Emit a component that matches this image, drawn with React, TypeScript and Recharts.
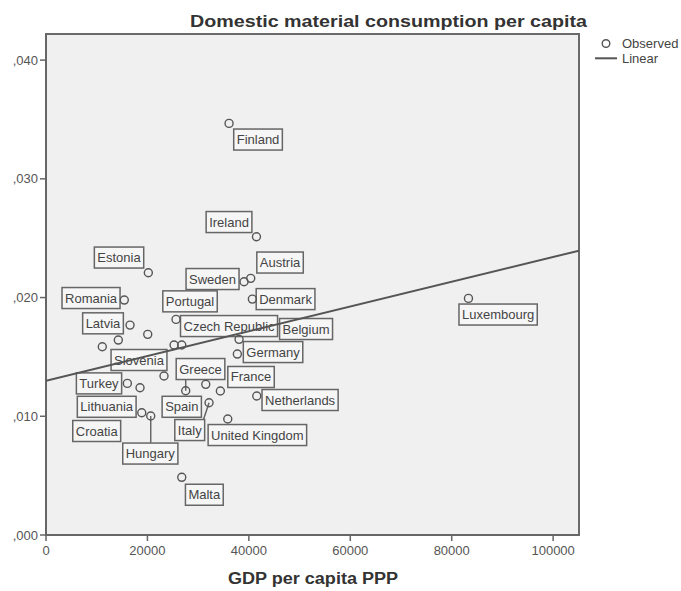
import React from 'react';
import { ScatterChart, Scatter, XAxis, YAxis, CartesianGrid, ReferenceArea } from 'recharts';

const FONT = "'Liberation Sans', Arial, sans-serif";

// Observed points (GDP per capita PPP, domestic material consumption per capita)
const countries = [
  'Finland', 'Ireland', 'Estonia', 'Sweden', 'Austria', 'Romania', 'Denmark', 'Portugal', 'Latvia', '',
  'Belgium', '', '', 'Czech Republic', '', 'Germany', 'Slovenia', 'Turkey', 'Croatia', 'France',
  'Spain', 'Greece', 'Netherlands', 'Italy', 'Lithuania', 'Hungary', 'United Kingdom', 'Malta', 'Luxembourg',
];
const gdpValues = [
  36100, 41500, 20180, 39050, 40370, 15440, 40690, 25640, 16570, 20060,
  38070, 14260, 11100, 26770, 25250, 37730, 23270, 16040, 18540, 34380,
  31500, 27550, 41560, 32150, 18880, 20650, 35840, 26770, 83300,
];
const dmcValues = [
  0.03467, 0.02512, 0.02209, 0.02133, 0.02162, 0.01979, 0.01987, 0.01816, 0.01768, 0.0169,
  0.01648, 0.01642, 0.01586, 0.016, 0.016, 0.01524, 0.01339, 0.01277, 0.0124, 0.01213,
  0.01269, 0.01215, 0.01171, 0.01114, 0.0103, 0.01002, 0.00977, 0.00486, 0.01993,
];

// Label box anchors (centre of each case label, in data units)
const labelNames = [
  'Finland', 'Ireland', 'Estonia', 'Austria', 'Sweden', 'Romania', 'Portugal', 'Denmark', 'Latvia',
  'Czech Republic', 'Belgium', 'Luxembourg', 'Germany', 'Slovenia', 'Greece', 'France', 'Turkey',
  'Netherlands', 'Lithuania', 'Spain', 'Croatia', 'Italy', 'United Kingdom', 'Hungary', 'Malta',
];
const labelGdp = [
  41810, 36090, 14400, 46150, 32840, 8880, 28400, 47240, 11240,
  36090, 51280, 89150, 44770, 18340, 30470, 40430, 10450,
  50100, 11970, 26770, 10000, 28340, 41680, 20570, 31220,
];
const labelDmc = [
  0.03331, 0.02636, 0.02337, 0.02295, 0.02156, 0.01996, 0.01968, 0.01987, 0.01783,
  0.0176, 0.01735, 0.01857, 0.01541, 0.01474, 0.01398, 0.01331, 0.01277,
  0.01137, 0.0108, 0.0108, 0.00876, 0.00884, 0.00842, 0.00686, 0.00339,
];

// Leader lines from a point to its label
const leaderFromGdp = [20650, 27550, 32150];
const leaderFromDmc = [0.01002, 0.01215, 0.01114];
const leaderToGdp = [20650, 27550, 31030];
const leaderToDmc = [0.00777, 0.01311, 0.00968];

// Linear fit line endpoints
const fitGdp = [0, 105100];
const fitDmc = [0.013, 0.02395];

const xTicks = [0, 20000, 40000, 60000, 80000, 100000];
const yTicks = [0, 0.01, 0.02, 0.03, 0.04];
const xDomain = [0, 105100];
const yDomain = [0, 0.0422];

const points = countries.map((name, i) => ({ name, gdp: gdpValues[i], dmc: dmcValues[i] }));
const labels = labelNames.map((name, i) => ({ name, gdp: labelGdp[i], dmc: labelDmc[i] }));
const leaders = leaderFromGdp.map((g, i) => [
  { gdp: g, dmc: leaderFromDmc[i] },
  { gdp: leaderToGdp[i], dmc: leaderToDmc[i] },
]);
const fitLine = fitGdp.map((g, i) => ({ gdp: g, dmc: fitDmc[i] }));

let ctx: CanvasRenderingContext2D | null = null;
function textWidth(s: string, font: string): number {
  if (!ctx) ctx = document.createElement('canvas').getContext('2d');
  if (!ctx) return s.length * 7;
  ctx.font = font;
  return ctx.measureText(s).width;
}

const LabelBox = (props: any) => {
  const { cx, cy, payload } = props;
  if (cx == null || cy == null) return <g />;
  const w = textWidth(payload.name, `13px ${FONT}`) + 6;
  const h = 21;
  return (
    <g>
      <rect x={cx - w / 2} y={cy - h / 2} width={w} height={h} fill="#f6f6f6" stroke="#666" strokeWidth={1.5} />
      <text x={cx} y={cy + 4.5} textAnchor="middle" fontSize={13} fontFamily={FONT} fill="#444">
        {payload.name}
      </text>
    </g>
  );
};

const PointShape = (props: any) => {
  const { cx, cy } = props;
  if (cx == null || cy == null) return <g />;
  return <circle cx={cx} cy={cy} r={4} fill="none" stroke="#555" strokeWidth={1.4} />;
};

const NoShape = () => <g />;

const fmtY = (v: number) => ',' + v.toFixed(3).split('.')[1];

export default function App() {
  return (
    <div style={{ position: 'absolute', left: 0, top: 0, width: 681, height: 591, background: '#fff' }}>
      <ScatterChart width={681} height={591} margin={{ top: 34, right: 102, bottom: 0, left: 6 }}>
        <CartesianGrid fill="#eff0ef" horizontal={false} vertical={false} />
        <XAxis
          type="number"
          dataKey="gdp"
          domain={xDomain}
          ticks={xTicks}
          allowDataOverflow
          height={56}
          tickSize={6}
          tickMargin={5}
          axisLine={{ stroke: '#666', strokeWidth: 2 }}
          tickLine={{ stroke: '#666', strokeWidth: 1.5 }}
          tick={{ fill: '#555', fontSize: 13, fontFamily: FONT }}
        />
        <YAxis
          type="number"
          dataKey="dmc"
          domain={yDomain}
          ticks={yTicks}
          allowDataOverflow
          width={40}
          tickSize={6}
          tickMargin={2}
          tickFormatter={fmtY}
          axisLine={{ stroke: '#666', strokeWidth: 2 }}
          tickLine={{ stroke: '#666', strokeWidth: 1.5 }}
          tick={{ fill: '#555', fontSize: 13, fontFamily: FONT }}
        />
        <ReferenceArea
          x1={xDomain[0]}
          x2={xDomain[1]}
          y1={yDomain[0]}
          y2={yDomain[1]}
          fill="none"
          stroke="#6a6a6a"
          strokeWidth={2}
          ifOverflow="visible"
        />
        {leaders.map((seg, i) => (
          <Scatter
            key={'leader' + i}
            data={seg}
            line={{ stroke: '#666', strokeWidth: 1.5 }}
            shape={NoShape}
            isAnimationActive={false}
          />
        ))}
        <Scatter data={labels} shape={LabelBox} isAnimationActive={false} />
        <Scatter data={points} shape={PointShape} isAnimationActive={false} />
        <Scatter
          data={fitLine}
          line={{ stroke: '#555', strokeWidth: 2 }}
          shape={NoShape}
          isAnimationActive={false}
        />
      </ScatterChart>
      <svg
        width={681}
        height={591}
        style={{ position: 'absolute', left: 0, top: 0, pointerEvents: 'none' }}
      >
        <text x={190} y={27} fontSize={17} fontWeight="bold" fontFamily={FONT} fill="#333" textLength={397} lengthAdjust="spacingAndGlyphs">
          Domestic material consumption per  capita
        </text>
        <text x={228} y={584} fontSize={16} fontWeight="bold" fontFamily={FONT} fill="#333" textLength={170} lengthAdjust="spacingAndGlyphs">
          GDP per capita PPP
        </text>
        <circle cx={606} cy={43.5} r={3.8} fill="none" stroke="#555" strokeWidth={1.4} />
        <text x={622} y={48} fontSize={13} fontFamily={FONT} fill="#444">Observed</text>
        <line x1={595} x2={617} y1={58.3} y2={58.3} stroke="#555" strokeWidth={2} />
        <text x={622} y={62.5} fontSize={13} fontFamily={FONT} fill="#444">Linear</text>
      </svg>
    </div>
  );
}
